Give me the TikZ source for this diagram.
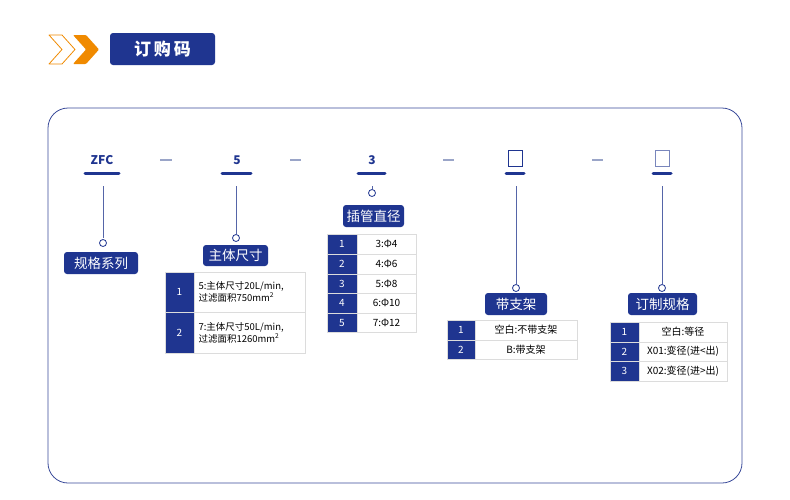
\documentclass[tikz,border=0pt]{standalone}
\usepackage{fontspec}
\setmainfont{Noto Sans CJK SC}
\begin{document}
\begin{tikzpicture}[x=1pt,y=-1pt,
  font=\fontsize{10}{12}\selectfont,
  dk/.style={fill=navy,draw=none},
  lab/.style={fill=navy,text=white,rounded corners=3pt,font=\fontsize{13.5}{15}\selectfont,inner sep=0pt,anchor=center},
  cell/.style={draw=cellgray,line width=0.6pt},
  ul/.style={line width=3pt,line cap=round,draw=navy},
  vl/.style={draw=lineblue,line width=0.7pt},
  ring/.style={draw=navy,line width=0.8pt,fill=white},
  dsh/.style={draw=dashgray,line width=1.2pt},
  code/.style={font=\bfseries\fontsize{12}{14}\selectfont,text=navy,anchor=center}
]
\definecolor{navy}{HTML}{1F3590}
\definecolor{orng}{HTML}{F08A00}
\definecolor{cellgray}{HTML}{DCDCDC}
\definecolor{lineblue}{HTML}{5565A8}
\definecolor{dashgray}{HTML}{9AA5C8}
\definecolor{frame}{HTML}{3A4A9A}
\useasboundingbox (0,0) rectangle (790,499);
\fill[white] (0,0) rectangle (790,499);
% header
\draw[orng,line width=0.8pt,line join=round] (49,35) -- (62,35) -- (75,49.5) -- (62,64) -- (49,64) -- (62,49.5) -- cycle;
\fill[orng,rounded corners=1pt] (73,35) -- (86,35) -- (99,49.5) -- (86,64) -- (73,64) -- (86,49.5) -- cycle;
\node[fill=navy,rounded corners=3pt,minimum width=105pt,minimum height=32pt,text=white,font=\bfseries\fontsize{17}{19}\selectfont,inner sep=0pt] (title) at (162.5,49) {订\,购\,码};
\draw[frame,line width=0.8pt,rounded corners=20pt] (48,108) rectangle (742,483);
% codes
\node[code] (c1) at (102,160) {ZFC};
\node[code] (c2) at (237,160) {5};
\node[code] (c3) at (372,160) {3};
\node[draw=navy,line width=0.9pt,minimum width=14pt,minimum height=16pt,inner sep=0pt] (c4) at (515,158) {};
\node[draw=navy!60,line width=0.9pt,minimum width=14pt,minimum height=16pt,inner sep=0pt] (c5) at (662,158) {};
\foreach \a/\b in {160/172,290/301,443/454,592/603}{\draw[dsh] (\a,160) -- (\b,160);}
\draw[ul] (85,173) -- (119,173);
\draw[ul] (222,173) -- (251,173);
\draw[ul] (358,173) -- (385,173);
\draw[ul] (506,173) -- (524,173);
\draw[ul] (653,173) -- (671,173);
% group 1
\coordinate (t1) at (103,186);
\node[ring,circle,minimum size=7pt,inner sep=0pt] (r1) at (103,243) {};
\draw[vl] (t1) -- (103,238);
\node[lab,minimum width=74pt,minimum height=22pt] (l1) at (101,263) {规格系列};
% group 2
\coordinate (t2) at (236,186);
\node[ring,circle,minimum size=7pt,inner sep=0pt] (r2) at (236,238) {};
\draw[vl] (t2) -- (r2);
\node[lab,minimum width=65pt,minimum height=21pt] (l2) at (235.5,255.5) {主体尺寸};
\fill[navy] (165,272) rectangle (194,353);
\draw[cell] (165,272) rectangle (305,353);
\draw[cell] (165,312) -- (305,312);
\draw[cell] (194,272) -- (194,353);
\node[text=white] at (179.5,292) {1};
\node[text=white] at (179.5,332.5) {2};
\node[anchor=west,align=left,font=\fontsize{9.5}{12}\selectfont] at (195,292) {5:主体尺寸20L/min,\\过滤面积750mm\textsuperscript{2}};
\node[anchor=west,align=left,font=\fontsize{9.5}{12}\selectfont] at (195,332.5) {7:主体尺寸50L/min,\\过滤面积1260mm\textsuperscript{2}};
% group 3
\coordinate (t3) at (372,186);
\node[ring,circle,minimum size=7pt,inner sep=0pt] (r3) at (372,193) {};
\draw[vl] (t3) -- (r3);
\node[lab,minimum width=61pt,minimum height=22pt] (l3) at (373.5,216) {插管直径};
\fill[navy] (327,234) rectangle (357,332);
\draw[cell] (327,234) rectangle (416,332);
\draw[cell] (357,234) -- (357,332);
\foreach \y in {254,274,293,313}{\draw[cell] (327,\y) -- (416,\y);}
\foreach \n/\t/\y in {1/3:Φ4/244,2/4:Φ6/264,3/5:Φ8/283.5,4/6:Φ10/303,5/7:Φ12/322.5}{
  \node[text=white] at (342,\y) {\n};
  \node at (386.5,\y) {\t};}
% group 4
\coordinate (t4) at (516,186);
\node[ring,circle,minimum size=7pt,inner sep=0pt] (r4) at (516,288) {};
\draw[vl] (t4) -- (r4);
\node[lab,minimum width=62pt,minimum height=22pt] (l4) at (516,304) {带支架};
\fill[navy] (447,320) rectangle (475,359);
\draw[cell] (447,320) rectangle (577,359);
\draw[cell] (447,340) -- (577,340);
\draw[cell] (475,320) -- (475,359);
\node[text=white] at (461,330) {1};
\node[text=white] at (461,349.5) {2};
\node at (526,330) {空白:不带支架};
\node at (526,349.5) {B:带支架};
% group 5
\coordinate (t5) at (662,186);
\node[ring,circle,minimum size=7pt,inner sep=0pt] (r5) at (662,288) {};
\draw[vl] (t5) -- (r5);
\node[lab,minimum width=69pt,minimum height=22pt] (l5) at (662.5,304) {订制规格};
\fill[navy] (610,322) rectangle (639,381);
\draw[cell] (610,322) rectangle (727,381);
\draw[cell] (610,342) -- (727,342);
\draw[cell] (610,361) -- (727,361);
\draw[cell] (639,322) -- (639,381);
\node[text=white] at (624.5,332) {1};
\node[text=white] at (624.5,351.5) {2};
\node[text=white] at (624.5,371) {3};
\node at (683,332) {空白:等径};
\node at (683,351.5) {X01:变径(进<出)};
\node at (683,371) {X02:变径(进>出)};
\end{tikzpicture}
\end{document}
